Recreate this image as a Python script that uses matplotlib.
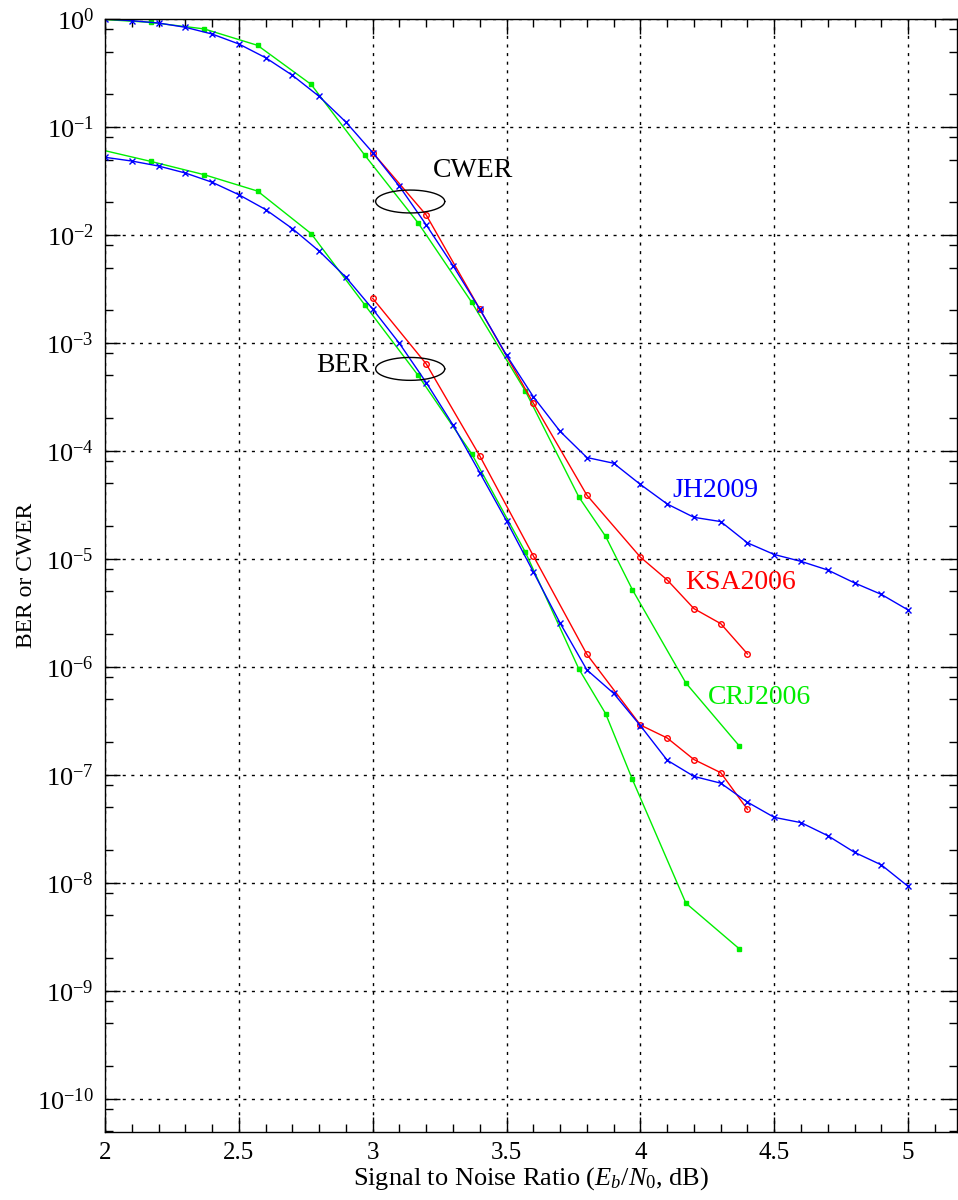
import numpy as np
import matplotlib
matplotlib.use("Agg")
import matplotlib.pyplot as plt
from matplotlib.ticker import LogLocator, MultipleLocator, FuncFormatter, NullFormatter

plt.rcParams['font.family'] = ['Liberation Serif', 'DejaVu Serif']
plt.rcParams['mathtext.fontset'] = 'custom'
plt.rcParams['mathtext.rm'] = 'Liberation Serif'
plt.rcParams['mathtext.it'] = 'Liberation Serif:italic'

# JH2009 (blue)
jh_snr = [2.0, 2.1, 2.2, 2.3, 2.4, 2.5, 2.6, 2.7, 2.8, 2.9, 3.0, 3.1, 3.2, 3.3, 3.4, 3.5,
          3.6, 3.7, 3.8, 3.9, 4.0, 4.1, 4.2, 4.3, 4.4, 4.5, 4.6, 4.7, 4.8, 4.9, 5.0]
jh_cwer = [1.0, 0.964, 0.918, 0.838, 0.726, 0.587, 0.438, 0.301, 0.192, 0.111, 0.058,
           0.0282, 0.0124, 0.0052, 0.00206, 7.7e-4, 3.18e-4, 1.52e-4, 8.7e-5, 7.7e-5,
           4.9e-5, 3.23e-5, 2.43e-5, 2.22e-5, 1.41e-5, 1.10e-5, 9.5e-6, 7.9e-6, 6.0e-6,
           4.7e-6, 3.37e-6]
jh_ber = [0.0524, 0.0484, 0.0435, 0.0375, 0.0308, 0.0236, 0.0172, 0.01145, 0.0071,
          0.00406, 0.00206, 9.9e-4, 4.3e-4, 1.74e-4, 6.3e-5, 2.25e-5, 7.6e-6, 2.55e-6,
          9.4e-7, 5.7e-7, 2.86e-7, 1.37e-7, 9.7e-8, 8.4e-8, 5.6e-8, 4.05e-8, 3.62e-8,
          2.74e-8, 1.92e-8, 1.47e-8, 9.3e-9]

# KSA2006 (red)
ksa_snr = [3.0, 3.2, 3.4, 3.6, 3.8, 4.0, 4.1, 4.2, 4.3, 4.4]
ksa_cwer = [0.058, 0.0153, 0.00206, 2.78e-4, 3.9e-5, 1.04e-5, 6.4e-6, 3.47e-6, 2.52e-6, 1.32e-6]
ksa_ber = [0.00259, 6.4e-4, 9.0e-5, 1.07e-5, 1.31e-6, 2.9e-7, 2.2e-7, 1.39e-7, 1.05e-7, 4.8e-8]

# CRJ2006 (green)
crj_snr = [1.97, 2.17, 2.37, 2.57, 2.77, 2.97, 3.17, 3.37, 3.57, 3.77, 3.87, 3.97, 4.17, 4.37]
crj_cwer = [1.0, 0.93, 0.81, 0.57, 0.248, 0.055, 0.0129, 0.00238, 3.6e-4, 3.75e-5,
            1.62e-5, 5.2e-6, 7.1e-7, 1.85e-7]
crj_ber = [0.0628, 0.0481, 0.0362, 0.0255, 0.0103, 0.00226, 5.0e-4, 9.4e-5, 1.16e-5,
           9.6e-7, 3.7e-7, 9.1e-8, 6.5e-9, 2.45e-9]

y_decades = list(range(0, -11, -1))

blue = '#0000ff'
red = '#ff0000'
green = '#00ee00'
fs = 20

fig = plt.figure(figsize=(9.58, 12), dpi=100)
ax = fig.add_axes([105 / 958, 68 / 1200, 852 / 958, 1113 / 1200])

for ys in (crj_cwer, crj_ber):
    ax.plot(crj_snr, ys, color=green, lw=1.0, marker='s', ms=3.5, mew=1.0)
for ys in (ksa_cwer, ksa_ber):
    ax.plot(ksa_snr, ys, color=red, lw=1.0, marker='o', ms=4, mew=1.0, mfc='none')
for ys in (jh_cwer, jh_ber):
    ax.plot(jh_snr, ys, color=blue, lw=1.0, marker='x', ms=4.5, mew=1.0)

ax.set_yscale('log')
ax.set_xlim(2, 2 + 852 / 267.7)
ax.set_ylim(10 ** -10.306, 1.0)

ax.xaxis.set_major_locator(MultipleLocator(0.5))
ax.xaxis.set_minor_locator(MultipleLocator(0.1))
ax.xaxis.set_major_formatter(FuncFormatter(lambda v, p: '%g' % v))
ax.set_yticks([10.0 ** d for d in y_decades])
ax.set_yticklabels(['$10^{%d}$' % d for d in y_decades])
ax.yaxis.set_minor_locator(LogLocator(base=10, subs=[2, 5, 8], numticks=20))
ax.yaxis.set_minor_formatter(NullFormatter())

ax.tick_params(which='both', direction='in', top=True, right=True, width=1.0)
ax.tick_params(axis='y', labelsize=19, pad=8)
ax.tick_params(axis='x', labelsize=18, pad=7)
ax.tick_params(which='major', length=11)
ax.tick_params(which='minor', length=6)
ax.grid(True, which='major', color='black', lw=1.0, ls=(0, (2.2, 4)))
for s in ax.spines.values():
    s.set_linewidth(1.0)

ax.set_xlabel('Signal to Noise Ratio ($E_b/N_0$, dB)', fontsize=19, labelpad=1)
ax.set_ylabel('BER or CWER', fontsize=17, labelpad=0)

# group ellipses (log-space)
t = np.linspace(0, 2 * np.pi, 200)
for cx, cy in ((3.14, 10 ** -1.69), (3.14, 10 ** -3.24)):
    ax.plot(cx + 0.129 * np.cos(t), cy * 10 ** (0.106 * np.sin(t)), color='black', lw=1.0)

ax.text(3.225, 10 ** -1.40, 'CWER', fontsize=fs, va='center', ha='left')
ax.text(2.99, 10 ** -3.21, 'BER', fontsize=fs, va='center', ha='right')
ax.text(4.12, 10 ** -4.37, 'JH2009', fontsize=fs, color=blue, va='center', ha='left')
ax.text(4.167, 10 ** -5.22, 'KSA2006', fontsize=fs, color=red, va='center', ha='left')
ax.text(4.253, 10 ** -6.28, 'CRJ2006', fontsize=fs, color=green, va='center', ha='left')

fig.savefig('out.png', dpi=100)
